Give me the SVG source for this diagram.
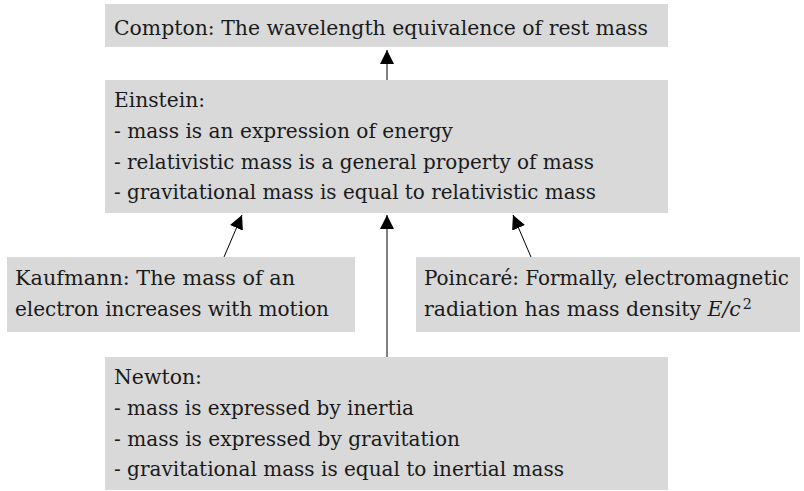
<svg xmlns="http://www.w3.org/2000/svg" width="804" height="491" viewBox="0 0 804 491">
  <defs>
    <style>
      .box { fill: #d9d9d9; stroke: none; }
      text { font-family: 'DejaVu Serif', 'Liberation Serif', serif; font-size: 20px; fill: #1a1a1a; }
      .edge { stroke: #000; stroke-width: 1; fill: none; marker-end: url(#ah); }
    </style>
    <marker id="ah" markerUnits="userSpaceOnUse" markerWidth="15" markerHeight="14" viewBox="0 0 15 14" refX="14" refY="7" orient="auto">
      <path d="M0,0 L14,7 L0,14 Z" fill="#000"/>
    </marker>
  </defs>
  <rect width="804" height="491" fill="#fff"/>
  <g id="connectors">
    <line class="edge" x1="387" y1="80" x2="387" y2="50"/>
    <line class="edge" x1="224" y1="257" x2="242" y2="215"/>
    <line class="edge" x1="387" y1="357" x2="387" y2="215"/>
    <line class="edge" x1="531" y1="257" x2="513" y2="215"/>
  </g>
  <g id="compton">
    <rect class="box" x="105" y="4" width="563" height="43"/>
    <text x="114" y="35" textLength="534" lengthAdjust="spacingAndGlyphs">Compton: The wavelength equivalence of rest mass</text>
  </g>
  <g id="einstein">
    <rect class="box" x="105" y="80" width="563" height="133"/>
    <text x="114" y="107" textLength="91" lengthAdjust="spacingAndGlyphs">Einstein:</text>
    <text x="114" y="138" textLength="339" lengthAdjust="spacingAndGlyphs">- mass is an expression of energy</text>
    <text x="114" y="169" textLength="480" lengthAdjust="spacingAndGlyphs">- relativistic mass is a general property of mass</text>
    <text x="114" y="199" textLength="482" lengthAdjust="spacingAndGlyphs">- gravitational mass is equal to relativistic mass</text>
  </g>
  <g id="kaufmann">
    <rect class="box" x="7" y="257" width="348" height="75"/>
    <text x="15" y="285" textLength="280" lengthAdjust="spacingAndGlyphs">Kaufmann: The mass of an</text>
    <text x="15" y="316" textLength="314" lengthAdjust="spacingAndGlyphs">electron increases with motion</text>
  </g>
  <g id="poincare">
    <rect class="box" x="416" y="257" width="384" height="75"/>
    <text x="424" y="285" textLength="365" lengthAdjust="spacingAndGlyphs">Poincaré: Formally, electromagnetic</text>
    <text x="424" y="316" textLength="328" lengthAdjust="spacingAndGlyphs">radiation has mass density <tspan font-style="italic">E</tspan><tspan font-style="italic">/c</tspan><tspan font-size="14" dy="-7" dx="2">2</tspan></text>
  </g>
  <g id="newton">
    <rect class="box" x="105" y="357" width="563" height="133"/>
    <text x="114" y="384" textLength="88" lengthAdjust="spacingAndGlyphs">Newton:</text>
    <text x="114" y="415" textLength="300" lengthAdjust="spacingAndGlyphs">- mass is expressed by inertia</text>
    <text x="114" y="446" textLength="346" lengthAdjust="spacingAndGlyphs">- mass is expressed by gravitation</text>
    <text x="114" y="476" textLength="450" lengthAdjust="spacingAndGlyphs">- gravitational mass is equal to inertial mass</text>
  </g>
</svg>
